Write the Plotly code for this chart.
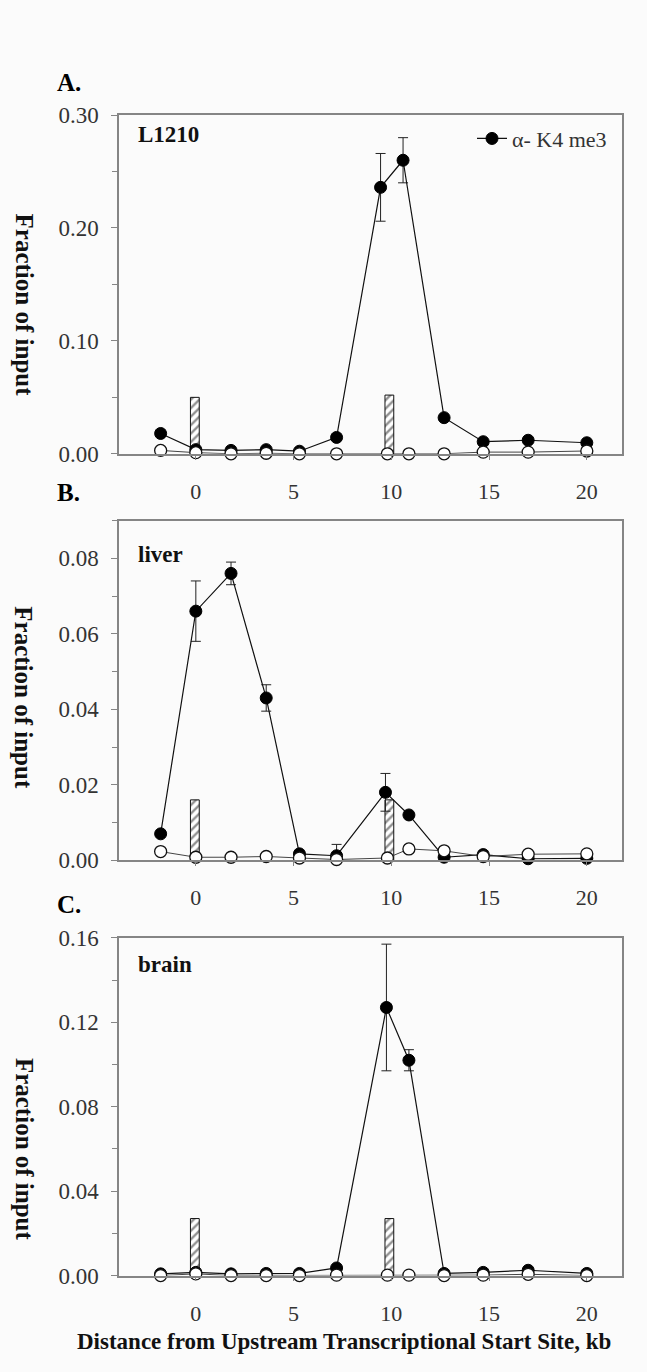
import plotly.graph_objects as go

W, H = 647, 1372

# ---------------- data ----------------
x_open = [-1.8, 0, 1.8, 3.6, 5.3, 7.2, 9.8, 10.9, 12.7, 14.7, 17, 20]

# Panel A (L1210)
xA_k4 = [-1.8, 0, 1.8, 3.6, 5.3, 7.2, 9.45, 10.6, 12.7, 14.7, 17, 20]
yA_k4 = [0.018, 0.0037, 0.003, 0.0037, 0.0023, 0.0145, 0.236, 0.260, 0.032, 0.0107, 0.012, 0.0098]
eA_k4 = [0, 0, 0, 0, 0, 0, 0.030, 0.020, 0, 0, 0, 0]
yA_ctl = [0.003, 0.001, 0.0, 0.0005, 0.0, 0.0, 0.0, 0.0, 0.0, 0.0015, 0.0015, 0.0025]
barA = [0.050, 0.052]

# Panel B (liver)
xB_k4 = [-1.8, 0, 1.8, 3.6, 5.3, 7.2, 9.7, 10.9, 12.7, 14.7, 17, 20]
yB_k4 = [0.007, 0.066, 0.076, 0.043, 0.0017, 0.0012, 0.018, 0.012, 0.0008, 0.0015, 0.0004, 0.0005]
eB_k4 = [0, 0.008, 0.003, 0.0035, 0, 0.003, 0.005, 0, 0, 0, 0, 0]
yB_ctl = [0.0023, 0.0008, 0.0008, 0.001, 0.0006, 0.0002, 0.0006, 0.003, 0.0025, 0.001, 0.0016, 0.0017]
barB = [0.016, 0.016]

# Panel C (brain)
xC_k4 = [-1.8, 0, 1.8, 3.6, 5.3, 7.2, 9.75, 10.9, 12.7, 14.7, 17, 20]
yC_k4 = [0.0008, 0.0015, 0.0008, 0.001, 0.001, 0.0036, 0.127, 0.102, 0.001, 0.0015, 0.0025, 0.001]
eC_k4 = [0, 0, 0, 0, 0, 0, 0.030, 0.005, 0, 0, 0, 0]
yC_ctl = [0.0, 0.0008, 0.0, 0.0, 0.0, 0.0002, 0.0002, 0.0002, 0.0, 0.0002, 0.0006, 0.0]
barC = [0.027, 0.027]

bar_x = [-0.05, 9.9]
x_ticks = [0, 5, 10, 15, 20]
legend_name = "α- K4 me3"
panel_letters = ["A.", "B.", "C."]
panel_names = ["L1210", "liver", "brain"]
y_title = "Fraction of input"
x_title = "Distance from Upstream Transcriptional Start Site, kb"

# ---------------- layout geometry (pixels) ----------------
panels = [
    dict(top=105, bot=450, rng=[0, 0.30], dtick=0.10, fmt=".2f"),
    dict(top=518, bot=864, rng=[0, 0.09], dtick=0.02, fmt=".2f"),
    dict(top=943, bot=1287, rng=[0, 0.16], dtick=0.04, fmt=".2f"),
]
LEFT, RIGHT = 119, 622

def px(x):
    return x / W

def py(y):
    return 1 - y / H

SERIF = "Liberation Serif, Times New Roman, serif"
GRAY = "#858585"
BG = "#fbfbfb"

fig = go.Figure()

data = [
    (xA_k4, yA_k4, eA_k4, yA_ctl, barA),
    (xB_k4, yB_k4, eB_k4, yB_ctl, barB),
    (xC_k4, yC_k4, eC_k4, yC_ctl, barC),
]

for i, (xk, yk, ek, yc, bars) in enumerate(data):
    n = "" if i == 0 else str(i + 1)
    xa, ya = "x" + n, "y" + n
    fig.add_trace(go.Bar(
        x=bar_x, y=bars, width=0.45, xaxis=xa, yaxis=ya,
        marker=dict(color="white", line=dict(color="#111", width=1),
                    pattern=dict(shape="/", fgcolor="#222", bgcolor="white", size=6, solidity=0.4)),
        showlegend=False, hoverinfo="skip"))
    fig.add_trace(go.Scatter(
        x=xk, y=yk, xaxis=xa, yaxis=ya, mode="lines+markers", name=legend_name,
        line=dict(color="#111", width=1.2),
        marker=dict(symbol="circle", size=12, color="black", line=dict(color="black", width=1)),
        error_y=dict(type="data", array=ek, visible=True, color="#222", thickness=1, width=5),
        cliponaxis=False, showlegend=(i == 0)))
    fig.add_trace(go.Scatter(
        x=x_open, y=yc, xaxis=xa, yaxis=ya, mode="lines+markers",
        line=dict(color="#444", width=1),
        marker=dict(symbol="circle", size=12, color="white", line=dict(color="#111", width=1.3)),
        cliponaxis=False, showlegend=False))

    p = panels[i]
    fig.layout["xaxis" + n] = dict(
        domain=[px(LEFT), px(RIGHT)], range=[-3.93, 21.8], anchor=ya,
        tickvals=x_ticks, ticks="outside", ticklen=4, tickcolor=GRAY,
        showline=True, linecolor=GRAY, linewidth=1.5, mirror=True,
        showgrid=False, zeroline=False, ticklabelstandoff=13,
        tickfont=dict(family=SERIF, size=22, color="#333"))
    fig.layout["yaxis" + n] = dict(
        domain=[py(p["bot"]), py(p["top"])], range=p["rng"], anchor=xa,
        dtick=p["dtick"], tick0=0, tickformat=p["fmt"], ticks="outside", ticklen=6,
        tickcolor=GRAY,
        minor=dict(ticks="outside", ticklen=5, dtick=p["dtick"] / 2, tickcolor=GRAY),
        showline=True, linecolor=GRAY, linewidth=1.5, mirror=True,
        showgrid=False, zeroline=False, ticklabelstandoff=8,
        tickfont=dict(family=SERIF, size=23, color="#333"))

annotations = []
letter_y = [72, 489, 909]
name_y = [125, 553, 970]
ytitle_y = [298, 698, 1158]
for i in range(3):
    annotations.append(dict(text="<b>%s</b>" % panel_letters[i], x=px(55), y=py(letter_y[i]),
                            xref="paper", yref="paper", xanchor="left", yanchor="middle",
                            showarrow=False, font=dict(family=SERIF, size=25, color="black")))
    annotations.append(dict(text="<b>%s</b>" % panel_names[i], x=px(136), y=py(name_y[i]),
                            xref="paper", yref="paper", xanchor="left", yanchor="middle",
                            showarrow=False, font=dict(family=SERIF, size=23, color="#111")))
    annotations.append(dict(text="<b>%s</b>" % y_title, x=px(24), y=py(ytitle_y[i]),
                            xref="paper", yref="paper", xanchor="center", yanchor="middle",
                            textangle=90, showarrow=False,
                            font=dict(family=SERIF, size=25, color="#111")))
annotations.append(dict(text="<b>%s</b>" % x_title, x=px(344), y=py(1354),
                        xref="paper", yref="paper", xanchor="center", yanchor="middle",
                        showarrow=False, font=dict(family=SERIF, size=23, color="#111")))

fig.update_layout(
    width=W, height=H, margin=dict(l=0, r=0, t=0, b=0),
    paper_bgcolor=BG, plot_bgcolor=BG,
    annotations=annotations, barmode="overlay",
    legend=dict(x=px(612), y=py(129), xanchor="right", yanchor="middle",
                bgcolor="rgba(0,0,0,0)", borderwidth=0,
                font=dict(family=SERIF, size=22, color="#333")),
)

fig.write_html("out.html")
